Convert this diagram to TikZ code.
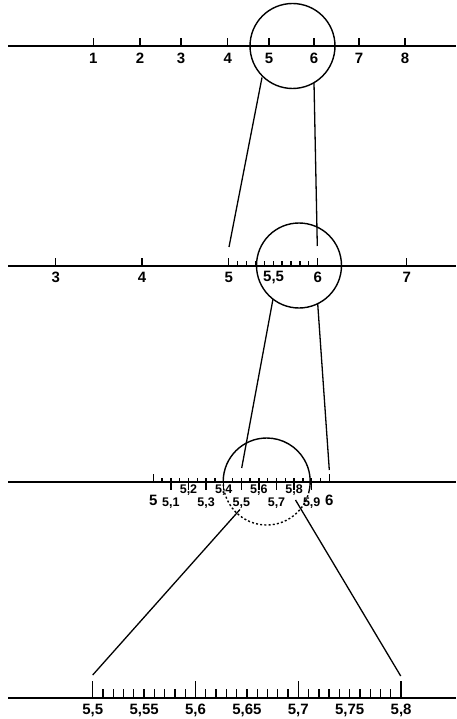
\documentclass[tikz,border=0pt]{standalone}
\usepackage{fontspec}
\setmainfont{Liberation Sans}
\begin{document}
\begin{tikzpicture}[x=1pt,y=-1pt,
  axis/.style={line width=1.8pt},
  tk/.style={line width=1.3pt},
  conn/.style={line width=1.3pt},
  lens/.style={line width=1.4pt},
  bigl/.style={font=\bfseries\fontsize{15}{15}\selectfont, inner sep=0pt},
  midl/.style={font=\bfseries\fontsize{15}{15}\selectfont, inner sep=0pt},
  smalll/.style={font=\bfseries\fontsize{12.5}{12.5}\selectfont, inner sep=0pt}]
\fill[white] (0,0) rectangle (456,719);
\useasboundingbox (0,0) rectangle (456,719);

% ---------- line 1 ----------
\draw[axis] (8,46) -- (456,46);
\foreach \n/\x in {1/93.3,2/140,3/181,4/227.7,5/269,6/314,7/359,8/405}{
  \draw[tk] (\x,46) -- (\x,38.3);
  \node[bigl] (a\n) at (\x,58) {\n};
}
\coordinate (c1) at (292.5,46);
\draw[lens] (c1) circle[radius=42.5];
\coordinate (c1l) at (262,77.5);
\coordinate (c1r) at (314,82.7);

% ---------- line 2 ----------
\draw[axis] (8,266) -- (456,266);
\foreach \n/\x in {3/55.7,4/142,5/228.7,6/317.7,7/406.7}{
  \draw[tk] (\x,266) -- (\x,257.5);
  \node[bigl] (b\n) at (\x,277.3) {\n};
}
\foreach \i in {1,...,9}{
  \draw[tk] ({228.7+8.9*\i},266) -- ({228.7+8.9*\i},261);
}
\node[bigl] (b55) at (273.6,277.3) {5,5};
\coordinate (t2l) at (229,247);
\coordinate (t2r) at (317.3,246);
\draw[conn] (c1l) -- (t2l);
\draw[conn] (c1r) -- (t2r);
\coordinate (c2) at (299,265.5);
\draw[lens] (c2) circle[radius=42.5];
\coordinate (c2l) at (273,299);
\coordinate (c2r) at (317.7,303.7);

% ---------- line 3 ----------
\draw[axis] (8,481.7) -- (456,481.7);
\draw[tk] (153.3,481.7) -- (153.3,473.5);
\draw[tk] (329.3,481.7) -- (329.3,473.5);
\foreach \i in {1,...,19}{
  \draw[tk] ({153.3+8.8*\i},481.7) -- ({153.3+8.8*\i},478);
}
\foreach \i in {1,...,9}{
  \draw[tk] ({153.3+17.6*\i},481.7) -- ({153.3+17.6*\i},489.5);
}
\node[bigl] (d5) at (153.3,500) {5};
\node[bigl] (d6) at (329.3,500) {6};
\foreach \n/\i in {{5,1}/1,{5,3}/3,{5,5}/5,{5,7}/7,{5,9}/9}{
  \node[smalll] at ({153.3+17.6*\i},503.5) {\n};
}
\foreach \n/\i in {{5,2}/2,{5,4}/4,{5,6}/6,{5,8}/8}{
  \node[smalll] at ({153.3+17.6*\i},490.5) {\n};
}
\coordinate (t3l) at (241.7,468);
\coordinate (t3r) at (329.3,470);
\draw[conn] (c2l) -- (t3l);
\draw[conn] (c2r) -- (t3r);
\coordinate (c3) at (266.7,481.5);
\draw[lens] (c3) ++(180:43.5) arc[start angle=180,end angle=373,radius=43.5];
\draw[lens,dash pattern=on 2pt off 2.2pt] (c3) ++(13:43.5) arc[start angle=13,end angle=180,radius=43.5];
\coordinate (c3l) at (240,509.5);
\coordinate (c3r) at (295.5,500);

% ---------- line 4 ----------
\draw[axis] (8,698) -- (456,698);
\foreach \i in {0,...,30}{
  \pgfmathsetmacro{\h}{mod(\i,10)==0 ? 17.5 : 9}
  \draw[tk] ({92.7+10.28*\i},698) -- ({92.7+10.28*\i},698-\h);
}
\foreach \n/\i in {{5,5}/0,{5,55}/5,{5,6}/10,{5,65}/15,{5,7}/20,{5,75}/25,{5,8}/30}{
  \node[midl] at ({92.7+10.28*\i},710.5) {\n};
}
\coordinate (t4l) at (92.7,675);
\coordinate (t4r) at (400.7,676);
\draw[conn] (c3l) -- (t4l);
\draw[conn] (c3r) -- (t4r);
\end{tikzpicture}
\end{document}
